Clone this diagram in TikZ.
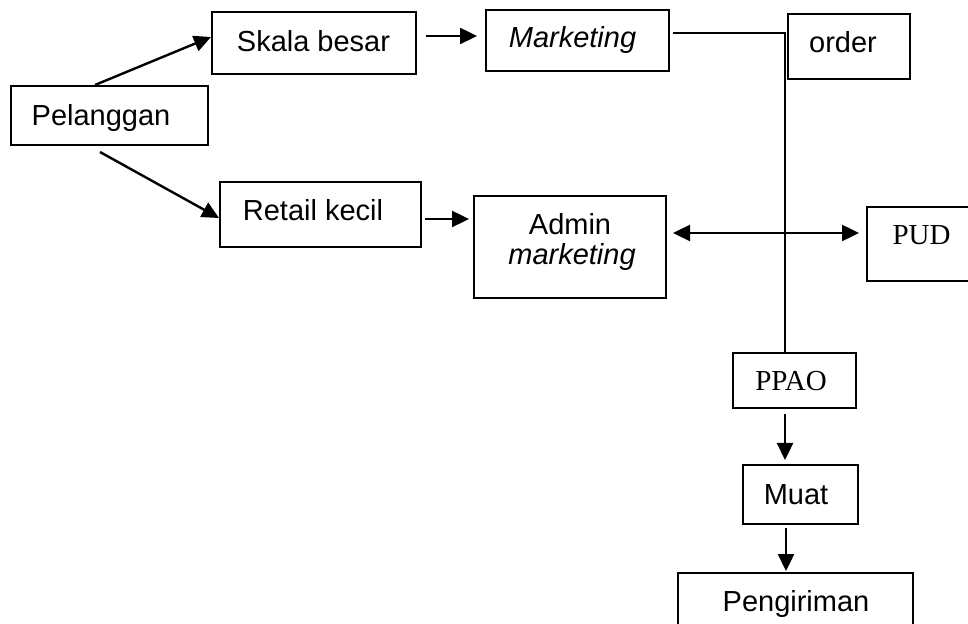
\documentclass[tikz,border=0pt]{standalone}
\usepackage{fontspec}
\setmainfont{Liberation Sans}
\newfontfamily\timesfont{Liberation Serif}
\usetikzlibrary{arrows.meta,calc}

\begin{document}
\begin{tikzpicture}[x=0.5pt,y=-0.5pt,
  box/.style={draw,line width=1pt,inner sep=0pt,rectangle},
  lbl/.style={inner sep=0pt,anchor=base,font=\fontsize{14.5}{15}\selectfont},
  serif/.style={inner sep=0pt,anchor=base,font=\fontsize{14.5}{15}\timesfont},
  tip/.tip={Triangle[length=8.5pt,width=8pt]},
  flow/.style={line width=1.2pt,-tip},
  both/.style={line width=1.2pt,tip-tip},
  link/.style={line width=1pt}]
\fill[white] (0,0) rectangle (968,624);
\useasboundingbox (0,0) rectangle (968,624);

% boxes
\node[box,minimum width=98.5pt,minimum height=29.5pt] (pel)    at (109.5,115.5) {};
\node[box,minimum width=102pt, minimum height=31pt]   (skala)  at (314,43) {};
\node[box,minimum width=91.5pt,minimum height=30.5pt] (mkt)    at (577.5,40.5) {};
\node[box,minimum width=61pt,  minimum height=32.5pt] (order)  at (849,46.5) {};
\node[box,minimum width=100.5pt,minimum height=32.5pt](retail) at (320.5,214.5) {};
\node[box,minimum width=96pt,  minimum height=51pt]   (admin)  at (570,247) {};
\node[box,minimum width=54pt,  minimum height=37pt]   (pud)    at (921,244) {};
\node[box,minimum width=61.5pt,minimum height=27.5pt] (ppao)   at (794.5,380.5) {};
\node[box,minimum width=57.5pt,minimum height=29.5pt] (muat)   at (800.5,494.5) {};
\node[box,minimum width=117.5pt,minimum height=33.5pt](peng)   at (795.5,606.5) {};

% labels
\node[lbl]   (tpel)    at (101,126)   {Pelanggan};
\node[lbl]   (tskala)  at (313.5,52)  {Skala besar};
\node[lbl]   (tmkt)    at (572.5,48)  {\itshape Marketing};
\node[lbl]   (torder)  at (843,53)    {order};
\node[lbl]   (tretail) at (313,221)   {Retail kecil};
\node[lbl]   (tadmin)  at (570,235)   {Admin};
\node[lbl]   (tadmin2) at (572,265)   {\itshape marketing};
\node[serif] (tpud)    at (921.5,245) {PUD};
\node[serif] (tppao)   at (791,391)   {PPAO};
\node[lbl]   (tmuat)   at (796,504)   {Muat};
\node[lbl]   (tpeng)   at (796,611)   {Pengiriman};

% connectors
\draw[flow] ($(pel.north)+(-14.5,0)$) -- ($(skala.west)+(0,-6)$);
\draw[flow] ($(pel.south)+(-9.5,6)$) -- ($(retail.west)+(0,3.5)$);
\draw[flow] ($(skala.east)+(9,-7)$) -- ($(mkt.west)+(-8,-4.5)$);
\draw[flow] ($(retail.east)+(3,4.5)$) -- ($(admin.west)+(-4,-28)$);
\draw[both] ($(admin.east)+(6,-14)$) -- ($(pud.west)+(-7,-11)$);
\draw[link] ($(mkt.east)+(3,-7.5)$) -| ($(ppao.north)+(-9.5,0)$);
\draw[flow] ($(ppao.south)+(-9.5,5)$) -- ($(muat.north)+(-15.5,-4)$);
\draw[flow] ($(muat.south)+(-14.5,3)$) -- ($(peng.north)+(-9.5,-1)$);
\end{tikzpicture}
\end{document}
